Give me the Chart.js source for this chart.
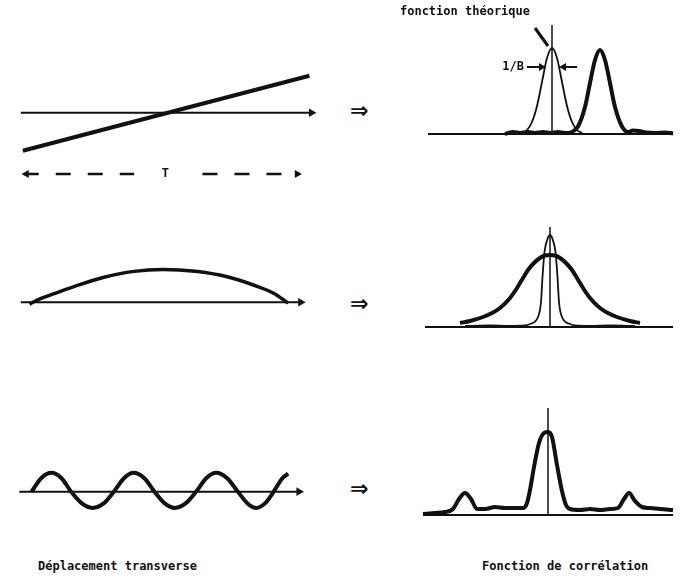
<!DOCTYPE html>
<html>
<head>
<meta charset="utf-8">
<script src="https://cdn.jsdelivr.net/npm/chart.js@4.4.1/dist/chart.umd.min.js"></script>
<style>
  body { margin: 0; background: #fff; width: 680px; height: 582px; position: relative; overflow: hidden; }
  canvas { position: absolute; }
  .lbl { position: absolute; font: bold 12px "DejaVu Sans Mono", monospace; color: #111; white-space: nowrap; }
  .imp { position: absolute; font: bold 22px "DejaVu Sans", sans-serif; color: #111; line-height: 22px; }
</style>
</head>
<body>
<canvas id="lin" width="320" height="135" style="left:10px;top:55px"></canvas>
<canvas id="arc" width="320" height="110" style="left:10px;top:220px"></canvas>
<canvas id="sin" width="320" height="100" style="left:10px;top:430px"></canvas>
<canvas id="corrLin" width="290" height="150" style="left:390px;top:0px"></canvas>
<canvas id="corrArc" width="290" height="125" style="left:390px;top:215px"></canvas>
<canvas id="corrSin" width="290" height="130" style="left:390px;top:395px"></canvas>

<div class="imp" style="left:350px;top:100px">⇒</div>
<div class="imp" style="left:350px;top:293px">⇒</div>
<div class="imp" style="left:350px;top:478px">⇒</div>

<div class="lbl" style="left:38px;top:559px">Déplacement transverse</div>
<div class="lbl" style="left:482px;top:559px">Fonction de corrélation</div>

<script>
// --- displacement panels (left) ---
const linAxisX = [0, 10];
const linAxisY = [0, 0];
const linX = [0.07, 9.93];
const linY = [-4.1, 4.0];
const periodX = [0.1, 3.9, 5.0, 6.25, 9.6];
const periodY = [-6.6, -6.6, null, -6.6, -6.6];

const arcAxisX = [0, 9.63];
const arcAxisY = [0, 0];
const arcX = [0.3, 0.6, 1.2, 1.9, 2.8, 3.9, 4.9, 6.0, 7.1, 8.0, 8.7, 9.2];
const arcY = [-0.2, 0.3, 1.0, 1.8, 2.7, 3.4, 3.6, 3.4, 2.8, 1.9, 1.0, -0.1];

const sinAxisX = [-0.05, 9.57];
const sinAxisY = [0, 0];
const sinX = [0.37, 0.7, 1.05, 1.4, 1.73, 2.1, 2.47, 2.85, 3.2, 3.55, 3.88, 4.25, 4.6,
  4.95, 5.3, 5.67, 6.03, 6.38, 6.72, 7.1, 7.47, 7.8, 8.1, 8.4, 8.7, 9.0, 9.2];
const sinY = [0, 1.5, 2.1, 1.5, 0, -1.3, -1.8, -1.3, 0, 1.5, 2.1, 1.5, 0,
  -1.3, -1.8, -1.3, 0, 1.5, 2.1, 1.5, 0, -1.3, -1.8, -1.3, 0, 1.5, 2.0];

// --- correlation panels (right) ---
const corrLinBaseX = [0.8, 25.3];
const corrLinBaseY = [0, 0];
const theoX = [8.5, 9.5, 10.2, 10.7, 11.2, 11.7, 12.2, 12.7, 13.2, 13.7, 14.2, 14.7, 15.2, 15.7, 16.2];
const theoY = [0.1, 0.2, 0.1, 0.4, 1.2, 2.8, 5.2, 7.6, 8.6, 7.6, 5.2, 2.8, 1.2, 0.4, 0.1];
const corrLinX = [8.5, 9.3, 10.0, 10.8, 11.5, 12.3, 13.0, 13.8, 14.5, 15.2, 15.8, 16.5, 17.0, 17.5, 18.0,
  18.5, 19.0, 19.5, 20.2, 20.8, 21.3, 21.9, 22.6, 23.5, 24.5, 25.3];
const corrLinY = [0.0, 0.2, 0.1, 0.2, 0.1, 0.2, 0.1, 0.2, 0.1, 0.2, 0.75, 2.7, 5.1, 7.4, 8.4,
  7.4, 5.1, 2.7, 0.75, 0.2, 0.35, 0.3, 0.15, 0.1, 0.15, 0.05];
const centreLinX = [13.2, 13.2];
const centreLinY = [0, 10.9];

const corrArcBaseX = [0.5, 25.3];
const corrArcBaseY = [0, 0];
const theoArcX = [4.5, 7, 9, 10.5, 11.0, 11.8, 12.1, 12.25, 12.45, 12.75, 13.0, 13.25, 13.55, 13.75, 13.9, 14.2, 15.0, 15.5, 17, 19, 21.5];
const theoArcY = [0.1, 0.15, 0.1, 0.15, 0.3, 1.0, 2.5, 5.0, 7.5, 8.8, 9.2, 8.8, 7.5, 5.0, 2.5, 1.0, 0.3, 0.15, 0.1, 0.15, 0.1];
const corrArcX = [4.0, 5.0, 6.3, 7.2, 8.0, 9.0, 9.7, 10.3, 10.8, 11.4, 12.0, 12.5, 13.0,
  13.5, 14.0, 14.6, 15.2, 15.7, 16.3, 17.0, 18.0, 18.8, 19.7, 21.0, 22.0];
const corrArcY = [0.4, 0.6, 1.0, 1.4, 1.9, 2.9, 3.9, 4.9, 5.7, 6.4, 6.9, 7.15, 7.2,
  7.15, 6.9, 6.4, 5.7, 4.9, 3.9, 2.9, 1.9, 1.4, 1.0, 0.6, 0.4];
const centreArcX = [13.0, 13.0];
const centreArcY = [0, 10.0];

const corrSinBaseX = [0.3, 25.3];
const corrSinBaseY = [0, 0];
const corrSinX = [0.3, 1.5, 2.5, 3.3, 3.9, 4.5, 5.1, 5.7, 6.5, 7.5, 8.5, 9.5, 10.3, 10.7, 11.0, 11.4, 11.9,
  12.4, 12.8, 13.2, 13.7, 14.2, 14.6, 15.0, 16, 17, 18, 19, 19.8, 20.4, 20.9, 21.5, 22.2, 23, 24, 25.3];
const corrSinY = [0.1, 0.2, 0.3, 0.6, 1.6, 2.2, 1.6, 0.6, 0.6, 0.8, 0.7, 0.7, 0.7, 1.2, 2.5, 4.8, 7.2,
  8.2, 8.3, 7.8, 5.0, 2.4, 1.0, 0.6, 0.5, 0.6, 0.5, 0.6, 0.7, 1.6, 2.2, 1.4, 0.8, 0.7, 0.6, 0.5];
const centreSinX = [12.8, 12.8];
const centreSinY = [0, 10.7];

const INK = "#111";
const MONO = 'bold 12px "DejaVu Sans Mono", monospace';

function pts(xs, ys) {
  return xs.map((x, i) => ({ x, y: ys[i] }));
}

function trace(xs, ys, width, extra) {
  return Object.assign({
    data: pts(xs, ys),
    borderColor: INK,
    borderWidth: width,
    pointRadius: 0,
    cubicInterpolationMode: "monotone",
    fill: false,
    clip: false,
  }, extra || {});
}

// axis line with a triangle arrow head on the last point
function arrowAxis(xs, ys) {
  return trace(xs, ys, 2, {
    pointRadius: xs.map((_, i) => (i === xs.length - 1 ? 5 : 0)),
    pointStyle: "triangle",
    pointRotation: 90,
    pointBackgroundColor: INK,
    pointBorderWidth: 0,
  });
}

function panel(id, xMin, xMax, yMin, yMax, datasets, plugins) {
  return new Chart(document.getElementById(id), {
    type: "line",
    data: { datasets },
    options: {
      responsive: false,
      animation: false,
      events: [],
      layout: { padding: 0 },
      plugins: { legend: { display: false }, tooltip: { enabled: false } },
      scales: {
        x: { type: "linear", min: xMin, max: xMax, display: false },
        y: { type: "linear", min: yMin, max: yMax, display: false },
      },
    },
    plugins: plugins || [],
  });
}

function arrowHead(ctx, x, y, dir) {
  ctx.beginPath();
  ctx.moveTo(x, y);
  ctx.lineTo(x - dir * 7, y - 4);
  ctx.lineTo(x - dir * 7, y + 4);
  ctx.closePath();
  ctx.fill();
}

const periodLabel = {
  id: "periodLabel",
  afterDatasetsDraw(chart) {
    const { ctx, scales: { x, y } } = chart;
    ctx.save();
    ctx.fillStyle = INK;
    ctx.font = MONO;
    ctx.textAlign = "center";
    ctx.textBaseline = "middle";
    ctx.fillText("T", x.getPixelForValue(4.97), y.getPixelForValue(-6.6));
    arrowHead(ctx, x.getPixelForValue(periodX[0]) - 2, y.getPixelForValue(-6.6), -1);
    arrowHead(ctx, x.getPixelForValue(periodX[4]) + 2, y.getPixelForValue(-6.6), 1);
    ctx.restore();
  },
};

const theoLabel = {
  id: "theoLabel",
  afterDatasetsDraw(chart) {
    const { ctx, scales: { x, y } } = chart;
    ctx.save();
    ctx.fillStyle = INK;
    ctx.strokeStyle = INK;
    ctx.font = MONO;
    ctx.textBaseline = "middle";
    ctx.textAlign = "right";
    ctx.fillText("fonction théorique", x.getPixelForValue(11.0), y.getPixelForValue(12.2));
    ctx.fillText("1/B", x.getPixelForValue(10.4), y.getPixelForValue(6.7));
    // leader line
    ctx.lineWidth = 3;
    ctx.beginPath();
    ctx.moveTo(x.getPixelForValue(11.5), y.getPixelForValue(10.6));
    ctx.lineTo(x.getPixelForValue(12.8), y.getPixelForValue(8.8));
    ctx.stroke();
    // width arrows
    const ay = y.getPixelForValue(6.7);
    ctx.lineWidth = 2;
    ctx.beginPath();
    ctx.moveTo(x.getPixelForValue(10.7), ay);
    ctx.lineTo(x.getPixelForValue(12.3), ay);
    ctx.moveTo(x.getPixelForValue(15.7), ay);
    ctx.lineTo(x.getPixelForValue(14.2), ay);
    ctx.stroke();
    arrowHead(ctx, x.getPixelForValue(12.6), ay, 1);
    arrowHead(ctx, x.getPixelForValue(13.9), ay, -1);
    ctx.restore();
  },
};

const LEFT_X = [-0.2, 10.4667];
const RIGHT_X = [-3, 26];

panel("lin", LEFT_X[0], LEFT_X[1], -7.8, 5.7, [
  arrowAxis(linAxisX, linAxisY),
  trace(linX, linY, 4),
  trace(periodX, periodY, 2.5, { borderDash: [15, 17], cubicInterpolationMode: "default" }),
], [periodLabel]);

panel("arc", LEFT_X[0], LEFT_X[1], -2.5, 8.5, [
  arrowAxis(arcAxisX, arcAxisY),
  trace(arcX, arcY, 3.5),
]);

panel("sin", LEFT_X[0], LEFT_X[1], -3.7, 6.3, [
  arrowAxis(sinAxisX, sinAxisY),
  trace(sinX, sinY, 4),
]);

panel("corrLin", RIGHT_X[0], RIGHT_X[1], -1.6, 13.4, [
  trace(corrLinBaseX, corrLinBaseY, 2),
  trace(centreLinX, centreLinY, 1.5),
  trace(theoX, theoY, 1.8),
  trace(corrLinX, corrLinY, 4),
], [theoLabel]);

panel("corrArc", RIGHT_X[0], RIGHT_X[1], -1.3, 11.2, [
  trace(corrArcBaseX, corrArcBaseY, 2),
  trace(centreArcX, centreArcY, 1.5),
  trace(theoArcX, theoArcY, 1.8),
  trace(corrArcX, corrArcY, 4),
]);

panel("corrSin", RIGHT_X[0], RIGHT_X[1], -1.0, 12.0, [
  trace(corrSinBaseX, corrSinBaseY, 2),
  trace(centreSinX, centreSinY, 1.5),
  trace(corrSinX, corrSinY, 4),
]);
</script>
</body>
</html>
